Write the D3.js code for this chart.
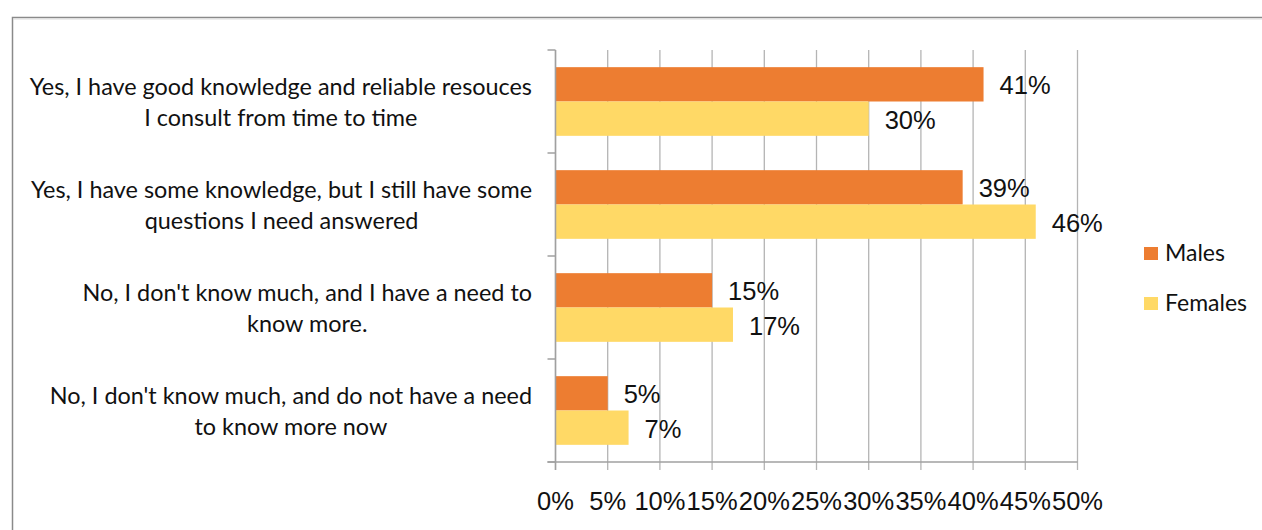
<!DOCTYPE html>
<html>
<head>
<meta charset="utf-8">
<script src="https://cdn.jsdelivr.net/npm/d3@7"></script>
<style>
  html, body { margin: 0; padding: 0; background: #ffffff; }
  svg { display: block; }
</style>
</head>
<body>
<svg id="chart" width="1262" height="530"></svg>
<script>
// Survey answers (each entry is one category, split into its display lines)
const categories = [
  ["Yes, I have good knowledge and reliable resouces", "I consult from time to time"],
  ["Yes, I have some knowledge, but I still have some", "questions I need answered"],
  ["No, I don't know much, and I have a need to", "know more."],
  ["No, I don't know much, and do not have a need", "to know more now"]
];
const series = ["Males", "Females"];
const males = [0.41, 0.39, 0.15, 0.05];
const females = [0.30, 0.46, 0.17, 0.07];
const xTicks = [0, 0.05, 0.10, 0.15, 0.20, 0.25, 0.30, 0.35, 0.40, 0.45, 0.50];
const colors = { Males: "#ED7D31", Females: "#FFD966" };

const svg = d3.select("#chart");
const catKeys = categories.map(c => c.join(" "));
const valuesBySeries = { Males: males, Females: females };

const plot = { left: 555.5, right: 1077.5, top: 50, bottom: 462 };

const x = d3.scaleLinear().domain([0, 0.5]).range([plot.left, plot.right]);
const y = d3.scaleBand().domain(catKeys).range([plot.top, plot.bottom]).padding(0);
const ySub = d3.scaleBand().domain(series).range([0, y.bandwidth()])
  .paddingInner(0).paddingOuter(0.5);

// outer chart frame
svg.append("rect")
  .attr("x", 12.5).attr("y", 17.5)
  .attr("width", 1300).attr("height", 600)
  .attr("fill", "none").attr("stroke", "#8a8a8a").attr("stroke-width", 1.5);
svg.append("line")
  .attr("x1", 13).attr("x2", 1262).attr("y1", 19).attr("y2", 19)
  .attr("stroke", "#dcdcdc").attr("stroke-width", 1);

// vertical gridlines, extending down as tick marks
svg.append("g").selectAll("line").data(xTicks).join("line")
  .attr("x1", d => x(d)).attr("x2", d => x(d))
  .attr("y1", plot.top).attr("y2", plot.bottom + 8)
  .attr("stroke", "#b4b4b4").attr("stroke-width", 1.3);

// bars
const groups = svg.append("g").selectAll("g").data(catKeys).join("g")
  .attr("transform", d => `translate(0,${y(d)})`);

groups.selectAll("rect")
  .data((d, i) => series.map(s => ({ s, v: valuesBySeries[s][i] })))
  .join("rect")
  .attr("x", x(0))
  .attr("y", d => ySub(d.s))
  .attr("width", d => x(d.v) - x(0))
  .attr("height", ySub.bandwidth())
  .attr("fill", d => colors[d.s]);

// value labels
const numFont = "'Liberation Sans', Arial, sans-serif";
groups.selectAll("text")
  .data((d, i) => series.map(s => ({ s, v: valuesBySeries[s][i] })))
  .join("text")
  .attr("x", d => x(d.v) + 16)
  .attr("y", d => ySub(d.s) + ySub.bandwidth() / 2 + 10)
  .attr("font-family", numFont)
  .attr("font-size", 25.5)
  .attr("fill", "#111")
  .text(d => d3.format(".0%")(d.v));

// category axis line and ticks
const axisColor = "#a0a0a0";
svg.append("line")
  .attr("x1", plot.left).attr("x2", plot.left)
  .attr("y1", plot.top).attr("y2", plot.bottom + 8)
  .attr("stroke", axisColor).attr("stroke-width", 1.5);
const bounds = catKeys.map(k => y(k)).concat([plot.bottom]);
svg.append("g").selectAll("line").data(bounds).join("line")
  .attr("x1", plot.left - 8).attr("x2", plot.left)
  .attr("y1", d => d).attr("y2", d => d)
  .attr("stroke", axisColor).attr("stroke-width", 1.5);

// value axis line
svg.append("line")
  .attr("x1", plot.left - 8).attr("x2", plot.right)
  .attr("y1", plot.bottom).attr("y2", plot.bottom)
  .attr("stroke", axisColor).attr("stroke-width", 1.5);

// value axis tick labels
svg.append("g").selectAll("text").data(xTicks).join("text")
  .attr("x", d => x(d))
  .attr("y", 510)
  .attr("text-anchor", "middle")
  .attr("font-family", numFont)
  .attr("font-size", 25.5)
  .attr("fill", "#111")
  .text(d => d3.format(".0%")(d));

// category labels: centred lines, block right-aligned to the axis
const labelFont = "Lato, 'Open Sans', sans-serif";
const labelRight = 532;
categories.forEach((lines, i) => {
  const cy = y(catKeys[i]) + y.bandwidth() / 2;
  const t = svg.append("text")
    .attr("font-family", labelFont)
    .attr("font-size", 23.4)
    .attr("fill", "#111")
    .attr("text-anchor", "middle");
  lines.forEach((ln, j) => {
    t.append("tspan").attr("x", 0).attr("y", cy - 7 + j * 31).text(ln);
  });
  const w = t.node().getBBox().width;
  t.selectAll("tspan").attr("x", labelRight - w / 2);
});

// legend
const legend = svg.append("g").selectAll("g").data(series).join("g")
  .attr("transform", (d, i) => `translate(1144,${247 + i * 50})`);
legend.append("rect")
  .attr("width", 14).attr("height", 13)
  .attr("fill", d => colors[d]);
legend.append("text")
  .attr("x", 21).attr("y", 14)
  .attr("font-family", labelFont)
  .attr("font-size", 23)
  .attr("fill", "#111")
  .text(d => d);
</script>
</body>
</html>
